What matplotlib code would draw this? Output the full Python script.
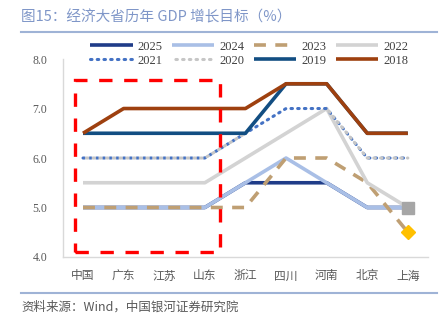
import numpy as np
import matplotlib
matplotlib.use('Agg')
import matplotlib.pyplot as plt
from matplotlib.patches import Rectangle
from matplotlib.lines import Line2D

plt.rcParams['font.family'] = ['Liberation Serif', 'Noto Sans CJK SC', 'DejaVu Sans']

# data
provinces = ['中国', '广东', '江苏', '山东', '浙江', '四川', '河南', '北京', '上海']
y2025 = [5.0, 5.0, 5.0, 5.0, 5.5, 5.5, 5.5, 5.0, 5.0]
y2024 = [5.0, 5.0, 5.0, 5.0, 5.5, 6.0, 5.5, 5.0, 5.0]
y2023 = [5.0, 5.0, 5.0, 5.0, 5.0, 6.0, 6.0, 5.5, 4.5]
y2022 = [5.5, 5.5, 5.5, 5.5, 6.0, 6.5, 7.0, 5.5, 5.0]
y2021 = [6.0, 6.0, 6.0, 6.0, 6.5, 7.0, 7.0, 6.0, 6.0]
y2020 = [6.0, 6.0, 6.0, 6.0, 6.5, np.nan, 7.0, 6.0, 6.0]
y2019 = [6.5, 6.5, 6.5, 6.5, 6.5, 7.5, 7.5, 6.5, 6.5]
y2018 = [6.5, 7.0, 7.0, 7.0, 7.0, 7.5, 7.5, 6.5, 6.5]

x = np.arange(len(provinces))

fig = plt.figure(figsize=(4.46, 3.28), dpi=100)
ax = fig.add_axes([0.1406, 0.2165, 0.8194, 0.6035])

lw = 2.6
series = [
    ('2025', y2025, dict(color='#1f3c88', lw=lw, ls='-')),
    ('2024', y2024, dict(color='#a9bfe6', lw=lw, ls='-')),
    ('2023', y2023, dict(color='#bf9f73', lw=lw, ls=(0, (3.3, 2.6)))),
    ('2022', y2022, dict(color='#d3d3d3', lw=lw, ls='-')),
    ('2021', y2021, dict(color='#4472c4', lw=2.2, ls=(0, (0.5, 1.7)), dash_capstyle='round')),
    ('2020', y2020, dict(color='#c6c6c6', lw=2.2, ls=(1.1, (0.5, 1.7)), dash_capstyle='round')),
    ('2019', y2019, dict(color='#124e82', lw=lw, ls='-')),
    ('2018', y2018, dict(color='#9e400f', lw=lw, ls='-')),
]

handles = {}
for name, vals, style in series:
    ln, = ax.plot(x, vals, label=name, solid_capstyle='butt', **style)
    handles[name] = ln

# end markers
ax.plot(x[-1], y2022[-1], marker='s', ms=9, color='#a6a6a6', zorder=5)
ax.plot(x[-1], y2023[-1], marker='D', ms=7.5, color='#ffc000', zorder=5)

# red highlight box
ax.add_patch(Rectangle((-0.2, 4.1), 3.57, 3.48, fill=False, edgecolor='#ff0000',
                       lw=2.4, linestyle=(0, (4, 3.5)), zorder=6))

ax.set_xlim(-0.5, 8.5)
ax.set_ylim(4.0, 8.0)
ax.set_yticks([4.0, 5.0, 6.0, 7.0, 8.0])
ax.set_yticklabels(['4.0', '5.0', '6.0', '7.0', '8.0'])
ax.set_xticks(x)
ax.set_xticklabels(provinces, family=['Noto Sans CJK SC'])
ax.tick_params(axis='both', length=0, labelsize=8.5, labelcolor='#595959')
ax.tick_params(axis='y', pad=11)
ax.tick_params(axis='x', pad=9)
for s in ['top', 'right']:
    ax.spines[s].set_visible(False)
for s in ['left', 'bottom']:
    ax.spines[s].set_color('#d9d9d9')
    ax.spines[s].set_linewidth(1.0)

# legend, row-major order
order = ['2025', '2021', '2024', '2020', '2023', '2019', '2022', '2018']
fig.legend([handles[k] for k in order], order, ncol=4, loc='upper left',
           bbox_to_anchor=(0.202, 0.876), frameon=False, fontsize=9,
           handlelength=3.4, handletextpad=0.4, columnspacing=0.75,
           labelspacing=0.15, borderpad=0, borderaxespad=0,
           labelcolor='#404040')

# title, rules and source
fig.text(0.047, 0.947, '图15：经济大省历年 GDP 增长目标（%）', fontsize=10.5,
         color='#7f96c8', va='center', family=['Noto Sans CJK SC'])
fig.add_artist(Line2D([0.047, 0.98], [0.902, 0.902], color='#9fb3d6', lw=1.5))
fig.add_artist(Line2D([0.047, 0.98], [0.107, 0.107], color='#9fb3d6', lw=1.5))
fig.text(0.047, 0.064, '资料来源：Wind，中国银河证券研究院', fontsize=9,
         color='#595959', va='center', style='italic', family=['Noto Sans CJK SC'])

fig.savefig('out.png', dpi=100)
